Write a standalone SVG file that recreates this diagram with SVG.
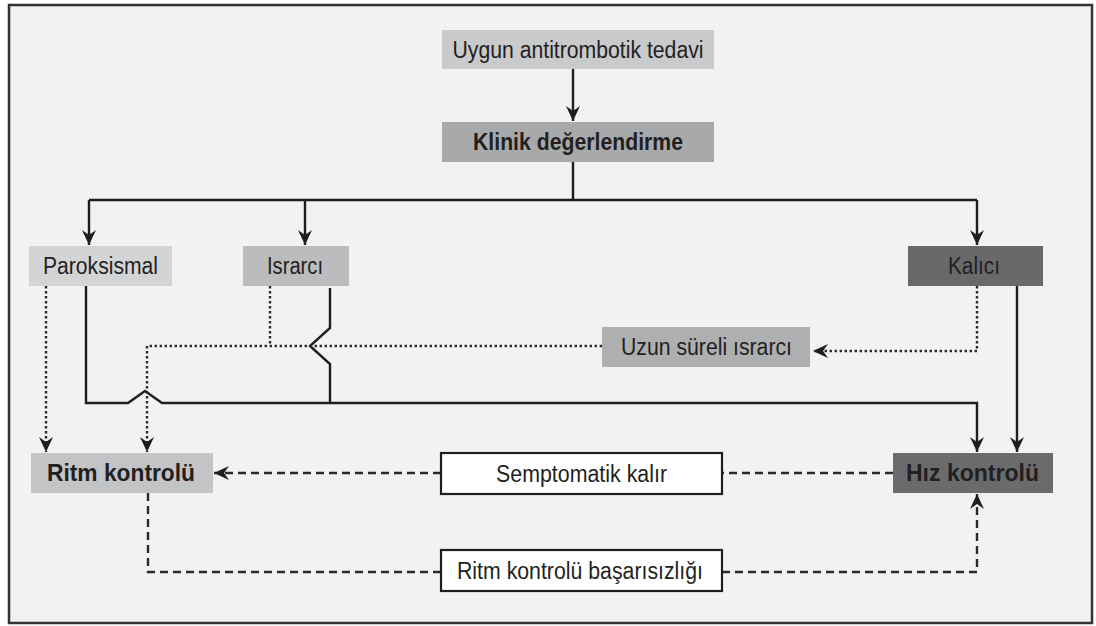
<svg xmlns="http://www.w3.org/2000/svg" width="1096" height="626" viewBox="0 0 1096 626">
<style>
text{font-family:"Liberation Sans",Arial,sans-serif;font-size:23px;fill:#231f20;text-anchor:middle}
.b{font-weight:bold}
.c{fill:none;stroke:#1e1e1e;stroke-width:2.4}
.dot{fill:none;stroke:#2a2a2a;stroke-width:2.4;stroke-dasharray:2.4 2.6}
.dash{fill:none;stroke:#2a2a2a;stroke-width:2.4;stroke-dasharray:8 5}
</style>
<defs>
<marker id="ah" markerUnits="userSpaceOnUse" markerWidth="16" markerHeight="14" refX="15" refY="7" orient="auto">
<path d="M0,0 L15,7 L0,14 L5,7 z" fill="#1e1e1e"/>
</marker>
</defs>
<rect x="9" y="5" width="1083" height="618" fill="#f1f2f4" stroke="#333" stroke-width="2.5"/>
<g id="connectors">
<path class="c" d="M573,69 V121" marker-end="url(#ah)"/>
<path class="c" d="M573,162 V200"/>
<path class="c" d="M89,200 H977"/>
<path class="c" d="M89,200 V245" marker-end="url(#ah)"/>
<path class="c" d="M305,200 V245" marker-end="url(#ah)"/>
<path class="c" d="M977,200 V245" marker-end="url(#ah)"/>
<path class="c" d="M86,286 V403 H128 L145,391 L162,403 H977 V452" marker-end="url(#ah)"/>
<path class="c" d="M330,288 V328 L310,346 L330,364 V403"/>
<path class="c" d="M1017,286 V452" marker-end="url(#ah)"/>
<path class="dot" d="M46,286 V452" marker-end="url(#ah)"/>
<path class="dot" d="M270,286 V346"/>
<path class="dot" d="M602,346 H147 V452" marker-end="url(#ah)"/>
<path class="dot" d="M977,286 V351 H813" marker-end="url(#ah)"/>
<path class="dash" d="M893,473 H722"/>
<path class="dash" d="M441,473 H214" marker-end="url(#ah)"/>
<path class="dash" d="M148,493 V572 H441"/>
<path class="dash" d="M722,572 H977 V494" marker-end="url(#ah)"/>
</g>
<g id="uygun">
<rect x="442" y="30" width="272" height="39" fill="#c9cacc"/>
<text x="578" y="57.5" textLength="251" lengthAdjust="spacingAndGlyphs">Uygun antitrombotik tedavi</text>
</g>
<g id="klinik">
<rect x="442" y="122" width="272" height="40" fill="#a8a9ab"/>
<text class="b" x="578" y="150" textLength="210" lengthAdjust="spacingAndGlyphs">Klinik değerlendirme</text>
</g>
<g id="paroksismal">
<rect x="29" y="246" width="143" height="40" fill="#d3d4d6"/>
<text x="100.5" y="274" textLength="115" lengthAdjust="spacingAndGlyphs">Paroksismal</text>
</g>
<g id="israrci">
<rect x="243" y="246" width="106" height="40" fill="#bbbcbe"/>
<text x="295" y="274" textLength="56" lengthAdjust="spacingAndGlyphs">Israrcı</text>
</g>
<g id="kalici">
<rect x="908" y="246" width="135" height="40" fill="#68696b"/>
<text x="974" y="274" textLength="52" lengthAdjust="spacingAndGlyphs">Kalıcı</text>
</g>
<g id="uzun">
<rect x="602" y="327" width="208" height="40" fill="#aeafb1"/>
<text x="706.5" y="355" textLength="171" lengthAdjust="spacingAndGlyphs">Uzun süreli ısrarcı</text>
</g>
<g id="ritm">
<rect x="31" y="453" width="182" height="40" fill="#c3c4c6"/>
<text class="b" x="121" y="481" textLength="148" lengthAdjust="spacingAndGlyphs">Ritm kontrolü</text>
</g>
<g id="semptomatik">
<rect x="441" y="453" width="281" height="41" fill="#ffffff" stroke="#1e1e1e" stroke-width="2.2"/>
<text x="581.5" y="481.5" textLength="171" lengthAdjust="spacingAndGlyphs">Semptomatik kalır</text>
</g>
<g id="basarisizlik">
<rect x="441" y="550" width="281" height="41" fill="#ffffff" stroke="#1e1e1e" stroke-width="2.2"/>
<text x="580" y="578.5" textLength="246" lengthAdjust="spacingAndGlyphs">Ritm kontrolü başarısızlığı</text>
</g>
<g id="hiz">
<rect x="893" y="453" width="160" height="40" fill="#6a6b6d"/>
<text class="b" x="972.5" y="481" textLength="133" lengthAdjust="spacingAndGlyphs">Hız kontrolü</text>
</g>
</svg>
